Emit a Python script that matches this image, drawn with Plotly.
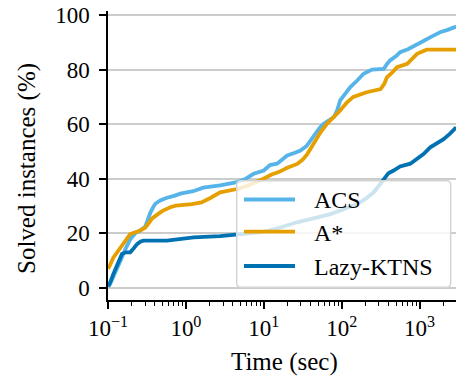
import plotly.graph_objects as go

# ---- data (time in seconds, solved %) ----
acs_t = [0.1, 0.105, 0.117, 0.132, 0.145, 0.166, 0.195, 0.224, 0.260, 0.302, 0.324, 0.349,
         0.380, 0.405, 0.468, 0.571, 0.708, 0.847, 1.24, 1.67, 2.75, 4.53, 5.89, 7.41, 10,
         12.0, 14.8, 20.0, 25.1, 29.5, 35.5, 39.8, 45.7, 52.5, 58.9, 70.8, 79.4, 87.1, 95.5,
         110, 129, 158, 191, 245, 347, 380, 417, 501, 562, 708, 933, 1122, 1380, 1862, 2239,
         2754, 2951]
acs_v = [0.5, 1, 4, 7, 10, 14, 18, 20, 21, 22.5, 25, 27.5,
         29.5, 30.8, 32, 33, 33.7, 34.5, 35.4, 36.7, 37.5, 38.7, 40, 41.8, 43,
         45, 45.5, 48.5, 49.5, 50.3, 52, 54, 56, 58.8, 60.1, 61.9, 62.6, 65, 68.7,
         71, 73.6, 76, 78.5, 80, 80.3, 82, 83.4, 85, 86.4, 87.5, 89.5, 90.5, 91.9, 93.8, 94.5,
         95.6, 95.8]

astar_t = [0.1, 0.105, 0.117, 0.144, 0.170, 0.193, 0.260, 0.302, 0.339, 0.372, 0.437, 0.501,
           0.631, 0.741, 1.20, 1.58, 2.09, 2.75, 4.53, 6.31, 9.77, 12.6, 15.8, 20.0, 26.9,
           31.6, 36.3, 43.7, 53.7, 64.6, 79.4, 95.5, 117, 141, 209, 316, 355, 380, 447, 513,
           692, 794, 927, 1230, 2951]
astar_v = [7, 8, 11, 14.8, 17.5, 19.7, 21, 22.1, 24, 25.5, 27, 28.2,
           29.5, 30.1, 30.7, 31.3, 33, 35, 36.2, 37.5, 39.9, 41.5, 42.5, 44, 45.4,
           47, 49.1, 52.8, 57.1, 60.1, 62.5, 65, 68, 70, 71.7, 72.9, 75, 77.2, 79, 80.9,
           82.1, 84, 85.8, 87.3, 87.3]

lazy_t = [0.1, 0.107, 0.117, 0.131, 0.151, 0.170, 0.193, 0.214, 0.236, 0.263, 0.286, 0.571,
          0.933, 1.26, 2.75, 4.53, 10, 15.8, 26.7, 44.7, 71.4, 100, 157, 200, 257, 302, 345,
          398, 463, 562, 759, 927, 1122, 1371, 1660, 2032, 2455, 2951]
lazy_v = [0.5, 2, 5, 8.7, 12.4, 13, 13, 14.5, 16, 17, 17.3, 17.3,
          17.9, 18.5, 18.9, 19.5, 20.5, 22, 24, 25.5, 27, 28.5, 30.7, 32.5, 35, 37.5, 39.5,
          42, 43, 44.5, 45.5, 47.5, 49, 51.5, 53, 54.5, 56.5, 58.8]

series_names = ["ACS", "A*", "Lazy-KTNS"]
series_colors = ["#56B4E9", "#E69F00", "#0072B2"]

x_tickvals = [0.1, 1, 10, 100, 1000]
x_ticktext = ["10<sup>−1</sup>", "10<sup>0</sup>", "10<sup>1</sup>", "10<sup>2</sup>", "10<sup>3</sup>"]
x_minor = [d * 10.0 ** e for e in range(-1, 4) for d in range(2, 10)]
y_tickvals = [0, 20, 40, 60, 80, 100]

FONT = "'Liberation Serif', 'DejaVu Serif', serif"

W, H = 456, 377
L, R, T, B = 108, 0, 11, 77
PW, PH = W - L - R, H - T - B


def px(xp):
    return (xp - L) / PW


def py(yp):
    return (H - B - yp) / PH


fig = go.Figure()
for t, v, name, col in zip([acs_t, astar_t, lazy_t], [acs_v, astar_v, lazy_v],
                           series_names, series_colors):
    fig.add_trace(go.Scatter(x=t, y=v, mode="lines", name=name, showlegend=False,
                             line=dict(color=col, width=3.8)))

x0, x1, y0, y1, r = 236.7, 450.7, 180.7, 287.3, 4
path = (f"M {px(x0 + r)} {py(y0)} L {px(x1 - r)} {py(y0)} Q {px(x1)} {py(y0)} {px(x1)} {py(y0 + r)} "
        f"L {px(x1)} {py(y1 - r)} Q {px(x1)} {py(y1)} {px(x1 - r)} {py(y1)} "
        f"L {px(x0 + r)} {py(y1)} Q {px(x0)} {py(y1)} {px(x0)} {py(y1 - r)} "
        f"L {px(x0)} {py(y0 + r)} Q {px(x0)} {py(y0)} {px(x0 + r)} {py(y0)} Z")
shapes = [dict(type="path", path=path, xref="paper", yref="paper", layer="above",
               fillcolor="rgba(255,255,255,0.8)", line=dict(color="#d4d4d4", width=1.5))]
annotations = []
for name, col, yy in zip(series_names, series_colors, [199.5, 231.7, 266.0]):
    shapes.append(dict(type="line", xref="paper", yref="paper", layer="above",
                       x0=px(244), x1=px(295), y0=py(yy), y1=py(yy),
                       line=dict(color=col, width=3.8)))
    annotations.append(dict(text=name, xref="paper", yref="paper", x=px(312), y=py(yy + 1),
                            xanchor="left", yanchor="middle", showarrow=False,
                            font=dict(family=FONT, size=24, color="black")))

annotations.append(dict(text="Time (sec)", xref="paper", yref="paper", x=px(284), y=py(362),
                        xanchor="center", yanchor="middle", showarrow=False,
                        font=dict(family=FONT, size=25, color="black")))
annotations.append(dict(text="Solved instances (%)", xref="paper", yref="paper", x=px(27),
                        y=py(169), xanchor="center", yanchor="middle", textangle=-90,
                        showarrow=False, font=dict(family=FONT, size=25, color="black")))

fig.update_layout(
    width=W, height=H,
    margin=dict(l=L, r=R, t=T, b=B, autoexpand=False),
    paper_bgcolor="white", plot_bgcolor="white",
    font=dict(family=FONT, size=23, color="black"),
    showlegend=False,
    shapes=shapes, annotations=annotations,
)
fig.update_xaxes(type="log", range=[-1, 3.467], tickvals=x_tickvals, ticktext=x_ticktext,
                 ticks="outside", ticklen=7, tickwidth=1.5, tickcolor="black",
                 showline=True, linecolor="black", linewidth=1.5, showgrid=False,
                 zeroline=False, automargin=False,
                 minor=dict(tickvals=x_minor, ticks="outside", ticklen=4, tickwidth=1,
                            tickcolor="black", showgrid=False))
fig.update_yaxes(range=[-4.5, 101.5], tickvals=y_tickvals, ticks="outside", ticklen=7,
                 tickwidth=1.5, tickcolor="black", showline=True, linecolor="black",
                 linewidth=1.5, showgrid=True, gridcolor="#cccccc", gridwidth=1.5,
                 zeroline=False, automargin=False, ticklabelstandoff=5)

fig.write_html("out.html", config={"displayModeBar": False},
               post_script="document.body.style.margin='0';")
